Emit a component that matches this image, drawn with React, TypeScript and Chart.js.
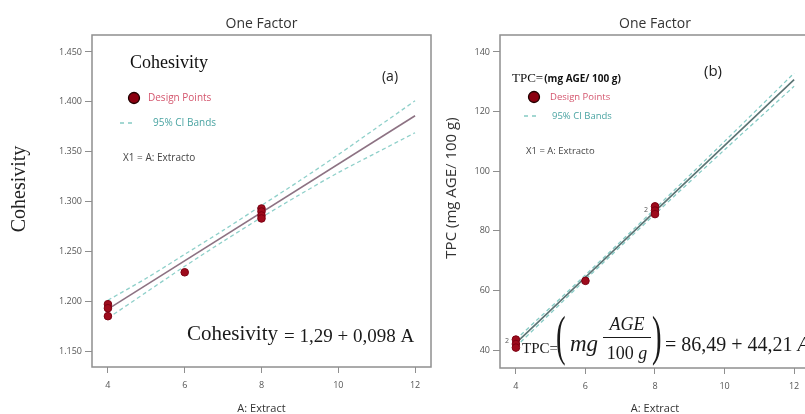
import React, { useEffect, useRef } from "react";
import { Chart, registerables } from "chart.js";

Chart.register(...registerables);

// ---------- shared ----------
const xTickValues = [4, 6, 8, 10, 12];
const xAxisTitle = "A: Extract";
const chartTitle = "One Factor";

// ---------- (a) Cohesivity ----------
const cohDesignX = [4, 4, 4, 6, 8, 8, 8, 8];
const cohDesignY = [1.197, 1.193, 1.185, 1.229, 1.293, 1.29, 1.286, 1.283];
const cohFitX = [4, 12];
const cohFitY = [1.192, 1.386];
const cohBandX = [4, 5, 6, 7, 8, 9, 10, 11, 12];
const cohUpperY = [1.201, 1.223, 1.247, 1.271, 1.296, 1.321, 1.347, 1.374, 1.401];
const cohLowerY = [1.183, 1.209, 1.235, 1.26, 1.284, 1.307, 1.329, 1.349, 1.369];
const cohYTicks = [1.15, 1.2, 1.25, 1.3, 1.35, 1.4, 1.45];

// ---------- (b) TPC ----------
const tpcDesignX = [4, 4, 4, 6, 8, 8, 8];
const tpcDesignY = [43.5, 42.0, 40.8, 63.2, 88.2, 86.8, 85.6];
const tpcFitX = [4, 12];
const tpcFitY = [42.3, 130.7];
const tpcBandX = [4, 6, 8, 10, 12];
const tpcUpperY = [43.5, 65.2, 87.4, 110.0, 132.9];
const tpcLowerY = [41.1, 63.6, 85.6, 107.2, 128.5];
const tpcYTicks = [40, 60, 80, 100, 120, 140];
const tpcRepeatX = [4, 8];
const tpcRepeatY = [43, 87];
const tpcRepeatLabel = ["2", "2"];

type Pt = { x: number; y: number };
const zip = (xs: number[], ys: number[]): Pt[] => xs.map((x, i) => ({ x, y: ys[i] }));

const SANS = '"Open Sans", "DejaVu Sans", sans-serif';
const SERIF = '"Liberation Serif", "DejaVu Serif", serif';

function txt(
  ctx: CanvasRenderingContext2D,
  s: string,
  x: number,
  y: number,
  font: string,
  color: string,
  align: CanvasTextAlign = "left",
  baseline: CanvasTextBaseline = "middle"
) {
  ctx.font = font;
  ctx.fillStyle = color;
  ctx.textAlign = align;
  ctx.textBaseline = baseline;
  ctx.fillText(s, x, y);
  return ctx.measureText(s).width;
}

function tallParen(ctx: CanvasRenderingContext2D, s: string, x: number, y: number, color: string) {
  ctx.save();
  ctx.translate(x, y);
  ctx.scale(1.15, 2.2);
  txt(ctx, s, 0, 0, `25px ${SERIF}`, color, "left", "middle");
  ctx.restore();
}

function legendDot(ctx: CanvasRenderingContext2D, x: number, y: number) {
  ctx.beginPath();
  ctx.arc(x, y, 5.5, 0, Math.PI * 2);
  ctx.fillStyle = "#8b0010";
  ctx.fill();
  ctx.lineWidth = 1.3;
  ctx.strokeStyle = "#220000";
  ctx.stroke();
}

function legendDash(ctx: CanvasRenderingContext2D, x0: number, x1: number, y: number) {
  ctx.save();
  ctx.beginPath();
  ctx.setLineDash([4, 4]);
  ctx.moveTo(x0, y);
  ctx.lineTo(x1, y);
  ctx.strokeStyle = "#72c2ba";
  ctx.lineWidth = 1.3;
  ctx.stroke();
  ctx.restore();
}

const framePlugin = {
  id: "frame",
  beforeDatasetsDraw(chart: any) {
    const { ctx, chartArea: a } = chart;
    ctx.save();
    ctx.strokeStyle = "#8f8f8f";
    ctx.lineWidth = 1.5;
    ctx.strokeRect(a.left, a.top, a.right - a.left, a.bottom - a.top);
    ctx.font = `14px ${SANS}`;
    ctx.fillStyle = "#333";
    ctx.textAlign = "center";
    ctx.textBaseline = "middle";
    ctx.fillText(chartTitle, (a.left + a.right) / 2, 24);
    ctx.restore();
  },
};

function annotPlugin(offsetX: number, draw: (ctx: CanvasRenderingContext2D, chart: any) => void) {
  return {
    id: "annot",
    afterDraw(chart: any) {
      const ctx = chart.ctx as CanvasRenderingContext2D;
      ctx.save();
      ctx.translate(-offsetX, 0);
      draw(ctx, chart);
      ctx.restore();
    },
  };
}

const drawLeft = (ctx: CanvasRenderingContext2D) => {
  ctx.save();
  ctx.translate(20, 189);
  ctx.rotate(-Math.PI / 2);
  txt(ctx, "Cohesivity", 0, 0, `20px ${SERIF}`, "#222", "center", "middle");
  ctx.restore();

  txt(ctx, "Cohesivity", 130, 63, `18px ${SERIF}`, "#111");
  txt(ctx, "(a)", 390, 77, `14px ${SANS}`, "#222", "center");
  legendDot(ctx, 134, 98);
  txt(ctx, "Design Points", 148, 98, `10px ${SANS}`, "#d4566e");
  legendDash(ctx, 120, 133, 123);
  txt(ctx, "95% CI Bands", 153, 123, `10px ${SANS}`, "#4aa4a2");
  txt(ctx, "X1 = A: Extracto", 123, 158, `10px ${SANS}`, "#444");

  const w = txt(ctx, "Cohesivity", 187, 340, `21px ${SERIF}`, "#1a1a1a", "left", "alphabetic");
  txt(ctx, "= 1,29 + 0,098 A", 187 + w + 6, 342, `19px ${SERIF}`, "#1a1a1a", "left", "alphabetic");
};

const drawRight = (offsetX: number) => (ctx: CanvasRenderingContext2D, chart: any) => {
  ctx.save();
  ctx.translate(452, 188);
  ctx.rotate(-Math.PI / 2);
  txt(ctx, "TPC (mg AGE/ 100 g)", 0, 0, `15px ${SANS}`, "#333", "center", "middle");
  ctx.restore();

  const w0 = txt(ctx, "TPC=", 512, 79, `13px ${SERIF}`, "#111");
  txt(ctx, "(mg AGE/ 100 g)", 512 + w0 + 1, 79, `bold 10px ${SANS}`, "#111");
  txt(ctx, "(b)", 713, 72, `15px ${SANS}`, "#222", "center");
  legendDot(ctx, 534, 97);
  txt(ctx, "Design Points", 550, 97, `9.5px ${SANS}`, "#d4566e");
  legendDash(ctx, 524, 537, 116);
  txt(ctx, "95% CI Bands", 552, 116, `9.5px ${SANS}`, "#4aa4a2");
  txt(ctx, "X1 = A: Extracto", 526, 151, `9.5px ${SANS}`, "#444");

  const xs = chart.scales.x;
  const ys = chart.scales.y;
  tpcRepeatX.forEach((xv, i) => {
    const px = xs.getPixelForValue(xv) + offsetX - 9;
    const py = ys.getPixelForValue(tpcRepeatY[i]);
    txt(ctx, tpcRepeatLabel[i], px, py, `7px ${SANS}`, "#555", "center");
  });

  // equation
  const col = "#1a1a1a";
  txt(ctx, "TPC=", 522, 353, `15px ${SERIF}`, col, "left", "alphabetic");
  tallParen(ctx, "(", 556, 340, col);
  txt(ctx, "mg", 570, 351, `italic 23px ${SERIF}`, col, "left", "alphabetic");
  txt(ctx, "AGE", 627, 330, `italic 18px ${SERIF}`, col, "center", "alphabetic");
  ctx.beginPath();
  ctx.moveTo(603, 337.5);
  ctx.lineTo(651, 337.5);
  ctx.strokeStyle = col;
  ctx.lineWidth = 1;
  ctx.stroke();
  ctx.font = `18px ${SERIF}`;
  const w100 = ctx.measureText("100 ").width;
  ctx.font = `italic 18px ${SERIF}`;
  const wg = ctx.measureText("g").width;
  const sx = 627 - (w100 + wg) / 2;
  txt(ctx, "100 ", sx, 359, `18px ${SERIF}`, col, "left", "alphabetic");
  txt(ctx, "g", sx + w100, 359, `italic 18px ${SERIF}`, col, "left", "alphabetic");
  tallParen(ctx, ")", 652, 340, col);
  const we = txt(ctx, "= 86,49 + 44,21 ", 665, 351, `20px ${SERIF}`, col, "left", "alphabetic");
  txt(ctx, "A", 665 + we, 351, `italic 20px ${SERIF}`, col, "left", "alphabetic");
};

type Panel = {
  width: number;
  offsetX: number;
  yAxisWidth: number;
  xAxisHeight: number;
  xMin: number;
  xMax: number;
  yMin: number;
  yMax: number;
  yTicks: number[];
  yFormat: (v: number) => string;
  points: Pt[];
  fit: Pt[];
  upper: Pt[];
  lower: Pt[];
  fitColor: string;
  bandColor: string;
  draw: (ctx: CanvasRenderingContext2D, chart: any) => void;
};

function makeConfig(p: Panel): any {
  const tickFont = { family: '"Open Sans", "DejaVu Sans", sans-serif', size: 9 };
  const grid = {
    display: true,
    drawOnChartArea: false,
    drawTicks: true,
    tickLength: 7,
    color: "#8f8f8f",
    lineWidth: 1,
  };
  return {
    type: "scatter",
    data: {
      datasets: [
        {
          label: "Design Points",
          data: p.points,
          pointRadius: 3.8,
          pointBackgroundColor: "#9e0b1c",
          pointBorderColor: "#7c0012",
          pointBorderWidth: 1,
          order: 0,
        },
        {
          label: "Fit",
          data: p.fit,
          showLine: true,
          pointRadius: 0,
          borderColor: p.fitColor,
          borderWidth: 1.6,
          order: 1,
        },
        {
          label: "95% CI upper",
          data: p.upper,
          showLine: true,
          pointRadius: 0,
          borderColor: p.bandColor,
          borderWidth: 1.3,
          borderDash: [4, 3],
          tension: 0.3,
          order: 2,
        },
        {
          label: "95% CI lower",
          data: p.lower,
          showLine: true,
          pointRadius: 0,
          borderColor: p.bandColor,
          borderWidth: 1.3,
          borderDash: [4, 3],
          tension: 0.3,
          order: 2,
        },
      ],
    },
    options: {
      responsive: false,
      animation: false,
      events: [],
      layout: { padding: { top: 35, right: 3, bottom: 0, left: 0 } },
      plugins: {
        legend: { display: false },
        tooltip: { enabled: false },
        title: { display: false },
      },
      scales: {
        x: {
          type: "linear",
          min: p.xMin,
          max: p.xMax,
          afterBuildTicks: (s: any) => {
            s.ticks = xTickValues.map((v) => ({ value: v }));
          },
          ticks: {
            font: tickFont,
            color: "#555",
            padding: 7,
            autoSkip: false,
            maxRotation: 0,
            callback: (v: any) => String(v),
          },
          grid: { ...grid, tickLength: 6 },
          border: { display: false },
          title: {
            display: true,
            text: xAxisTitle,
            color: "#333",
            font: { family: '"Open Sans", "DejaVu Sans", sans-serif', size: 11, lineHeight: 1 },
            padding: { top: 0, bottom: 0 },
          },
          afterFit: (s: any) => {
            s.height = p.xAxisHeight;
            s.paddingLeft = 0;
            s.paddingRight = 0;
          },
        },
        y: {
          type: "linear",
          min: p.yMin,
          max: p.yMax,
          afterBuildTicks: (s: any) => {
            s.ticks = p.yTicks.map((v) => ({ value: v }));
          },
          ticks: {
            font: tickFont,
            color: "#555",
            padding: 3,
            autoSkip: false,
            callback: (v: any) => p.yFormat(Number(v)),
          },
          grid,
          border: { display: false },
          afterFit: (s: any) => {
            s.width = p.yAxisWidth;
            s.paddingTop = 0;
            s.paddingBottom = 0;
          },
        },
      },
    },
    plugins: [framePlugin, annotPlugin(p.offsetX, p.draw)],
  };
}

const LEFT_W = 436;
const RIGHT_X = 436;
const RIGHT_W = 379;

const leftPanel: Panel = {
  width: LEFT_W,
  offsetX: 0,
  yAxisWidth: 92,
  xAxisHeight: 47,
  xMin: 3.585,
  xMax: 12.415,
  yMin: 1.134,
  yMax: 1.467,
  yTicks: cohYTicks,
  yFormat: (v) => v.toFixed(3),
  points: zip(cohDesignX, cohDesignY),
  fit: zip(cohFitX, cohFitY),
  upper: zip(cohBandX, cohUpperY),
  lower: zip(cohBandX, cohLowerY),
  fitColor: "#8d7283",
  bandColor: "#8fd0ca",
  draw: drawLeft,
};

const rightPanel: Panel = {
  width: RIGHT_W,
  offsetX: RIGHT_X,
  yAxisWidth: 64,
  xAxisHeight: 46,
  xMin: 3.543,
  xMax: 12.457,
  yMin: 33.96,
  yMax: 145.7,
  yTicks: tpcYTicks,
  yFormat: (v) => String(Math.round(v)),
  points: zip(tpcDesignX, tpcDesignY),
  fit: zip(tpcFitX, tpcFitY),
  upper: zip(tpcBandX, tpcUpperY),
  lower: zip(tpcBandX, tpcLowerY),
  fitColor: "#5a7373",
  bandColor: "#86cbc5",
  draw: drawRight(RIGHT_X),
};

function PanelChart({ panel, left }: { panel: Panel; left: number }) {
  const ref = useRef<HTMLCanvasElement | null>(null);
  useEffect(() => {
    if (!ref.current) return;
    const chart = new Chart(ref.current, makeConfig(panel));
    return () => chart.destroy();
  }, [panel]);
  return (
    <canvas
      ref={ref}
      width={panel.width}
      height={414}
      style={{ position: "absolute", left, top: 0, width: panel.width, height: 414 }}
    />
  );
}

export default function App() {
  return (
    <div
      style={{
        position: "fixed",
        left: 0,
        top: 0,
        width: 805,
        height: 414,
        overflow: "hidden",
        background: "#fff",
      }}
    >
      <PanelChart panel={leftPanel} left={0} />
      <PanelChart panel={rightPanel} left={RIGHT_X} />
    </div>
  );
}
